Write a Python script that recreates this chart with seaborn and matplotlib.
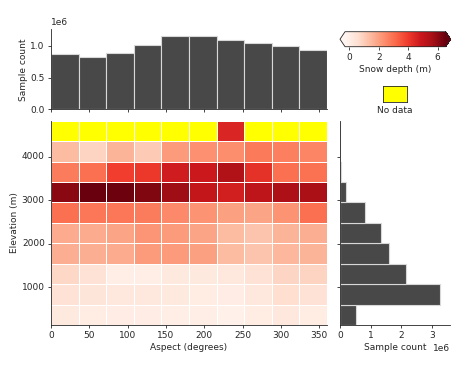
import numpy as np
import pandas as pd
import seaborn as sns
import matplotlib.pyplot as plt
import matplotlib as mpl

# bins
aspect_edges = [0, 36, 72, 108, 144, 180, 216, 252, 288, 324, 360]
elev_edges = [134, 603, 1072, 1541, 2010, 2479, 2948, 3417, 3886, 4355, 4824]

# sample counts per aspect bin / elevation bin (low -> high)
aspect_counts = [0.864e6, 0.817e6, 0.88e6, 1.02e6, 1.147e6, 1.147e6, 1.094e6, 1.037e6, 1.0e6, 0.932e6]
elev_counts = [0.52e6, 3.25e6, 2.15e6, 1.6e6, 1.33e6, 0.8e6, 0.18e6, 0.02e6, 0.006e6, 0.001e6]

# mean snow depth (m), rows from highest elevation bin to lowest
nan = np.nan
snow_depth = [
    [nan, nan, nan, nan, nan, nan, 4.5, nan, nan, nan],
    [1.4, 0.85, 1.55, 1.07, 2.1, 2.3, 2.4, 2.8, 2.65, 2.55],
    [2.75, 3.0, 3.95, 4.05, 4.75, 4.85, 5.4, 4.2, 3.0, 2.95],
    [6.05, 6.5, 6.45, 6.2, 5.75, 5.0, 4.7, 5.15, 5.5, 5.55],
    [3.0, 2.85, 2.85, 2.75, 2.45, 2.25, 2.0, 1.9, 2.25, 3.0],
    [1.75, 1.75, 1.9, 2.2, 2.1, 1.9, 1.4, 1.2, 1.55, 1.7],
    [1.7, 1.7, 1.75, 2.1, 2.1, 2.0, 1.4, 1.2, 1.5, 1.55],
    [0.75, 0.5, 0.0, 0.0, 0.2, 0.2, 0.25, 0.5, 0.8, 0.85],
    [0.5, 0.35, 0.25, 0.25, 0.2, 0.1, 0.05, 0.25, 0.6, 0.5],
    [0.2, 0.1, 0.05, 0.05, 0.0, 0.0, -0.1, 0.1, 0.25, 0.1],
]

aspect_ticks = [0, 50, 100, 150, 200, 250, 300, 350]
elev_ticks = [1000, 2000, 3000, 4000]
cbar_ticks = [0, 2, 4, 6]

sns.set_style('ticks')
plt.rcParams.update({
    'font.family': ['DejaVu Sans'],
    'font.size': 6.5,
    'axes.labelsize': 6.5,
    'xtick.labelsize': 6.5,
    'ytick.labelsize': 6.5,
    'axes.linewidth': 0.6,
    'xtick.major.size': 2.5,
    'ytick.major.size': 2.5,
    'xtick.major.width': 0.6,
    'ytick.major.width': 0.6,
    'xtick.major.pad': 2,
    'ytick.major.pad': 2,
    'axes.labelpad': 2,
})

W, H = 474, 368
fig = plt.figure(figsize=(W / 100, H / 100), dpi=100)


def px_axes(x0, y0, x1, y1):
    return fig.add_axes([x0 / W, 1 - y1 / H, (x1 - x0) / W, (y1 - y0) / H])


ax_map = px_axes(51, 120.7, 327, 325)
ax_top = px_axes(51, 29.3, 327, 109.3)
ax_right = px_axes(340, 120.7, 450, 325)
cax = px_axes(340, 31.7, 450.7, 46.7)
ax_nd = px_axes(383, 85.7, 407, 102.3)

# heatmap
cmap = mpl.colormaps['Reds'].copy()
cmap.set_bad('yellow')
df = pd.DataFrame(snow_depth)
hm = sns.heatmap(df, ax=ax_map, cmap=cmap, vmin=-0.3, vmax=6.55, cbar=False,
                 linewidths=0.6, linecolor='white')
n_rows, n_cols = df.shape
ax_map.set_xticks(np.array(aspect_ticks) / aspect_edges[-1] * n_cols)
ax_map.set_xticklabels(aspect_ticks, rotation=0)
ax_map.set_yticks((elev_edges[-1] - np.array(elev_ticks)) /
                  (elev_edges[-1] - elev_edges[0]) * n_rows)
ax_map.set_yticklabels(elev_ticks, rotation=0)
for s in ['left', 'bottom']:
    ax_map.spines[s].set_visible(True)
ax_map.set_xlabel('Aspect (degrees)')
ax_map.set_ylabel('Elevation (m)')

# top histogram
aspect_centers = np.convolve(aspect_edges, [0.5, 0.5], 'valid')
sns.histplot(x=aspect_centers, weights=aspect_counts, bins=aspect_edges, ax=ax_top,
             color='#484848', alpha=1, edgecolor='#d8d8d8', linewidth=0.8)
ax_top.set_xlim(0, 360)
ax_top.set_ylim(0, 1.26e6)
ax_top.set_xticks(aspect_ticks)
ax_top.set_xticklabels([])
ax_top.set_yticks([0, 0.5e6, 1.0e6])
ax_top.set_xlabel('')
ax_top.set_ylabel('Sample count')
sns.despine(ax=ax_top)

# right histogram
elev_centers = np.convolve(elev_edges, [0.5, 0.5], 'valid')
sns.histplot(y=elev_centers, weights=elev_counts, bins=elev_edges, ax=ax_right,
             color='#484848', alpha=1, edgecolor='#d8d8d8', linewidth=0.8)
ax_right.set_ylim(elev_edges[0], elev_edges[-1])
ax_right.set_xlim(0, 3.58e6)
ax_right.set_yticks(elev_ticks)
ax_right.set_yticklabels([])
ax_right.set_xticks([0, 1e6, 2e6, 3e6])
ax_right.set_ylabel('')
ax_right.set_xlabel('Sample count')
sns.despine(ax=ax_right)

# colorbar
cb = fig.colorbar(hm.collections[0], cax=cax, orientation='horizontal', extend='both')
cb.set_ticks(cbar_ticks)
cb.set_label('Snow depth (m)')
cb.outline.set_linewidth(0.6)

# no data patch
ax_nd.set_facecolor('yellow')
ax_nd.set_xticks([])
ax_nd.set_yticks([])
ax_nd.set_xlabel('No data', labelpad=3)

fig.savefig('out.png', dpi=100)
